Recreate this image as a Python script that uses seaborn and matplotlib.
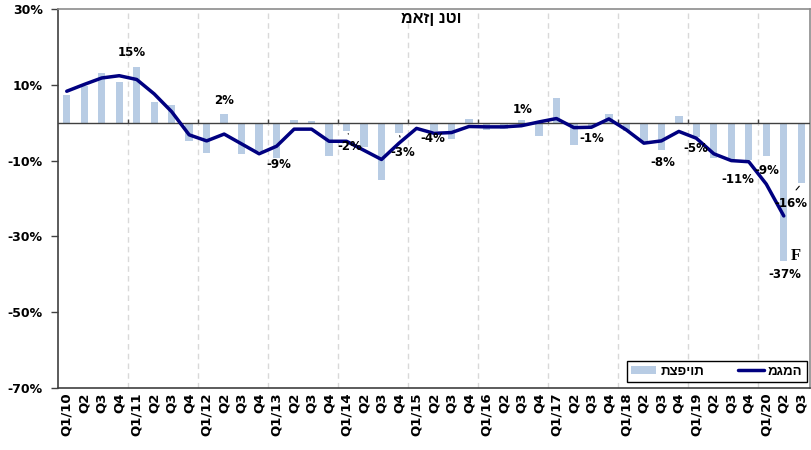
import numpy as np
import pandas as pd
import matplotlib
matplotlib.use("Agg")
import matplotlib.pyplot as plt
import seaborn as sns

# ---------------- data ----------------
years = list(range(10, 21))
quarter_ids = []      # unique category keys
quarter_labels = []   # tick labels as shown
for y in years:
    for q in range(1, 5):
        if y == 20 and q == 4:
            break
        quarter_ids.append(f"Q{q}/{y}")
        quarter_labels.append(f"Q1/{y}" if q == 1 else f"Q{q}")

observations = [7.4, 9.8, 13.1, 10.7, 14.6, 5.4, 4.7, -4.7, -8.1, 2.3, -8.2, -7.5,
                -9.3, 0.7, 0.4, -8.7, -2.1, -6.4, -15.0, -2.7, -0.2, -2.3, -4.2, 1.1,
                -1.9, -1.7, 0.8, -3.6, 6.6, -6.0, -0.8, 2.3, -2.1, -5.2, -7.3, 1.8,
                -3.9, -9.3, -9.5, -9.9, -8.9, -36.5, -16.0]

trend = [8.3, 10.1, 11.8, 12.4, 11.4, 7.6, 2.9, -3.2, -4.8, -3.0, -5.6, -8.2,
         -6.2, -1.7, -1.7, -4.9, -4.9, -7.3, -9.7, -5.4, -1.5, -2.8, -2.6, -1.0,
         -1.1, -1.1, -0.8, 0.2, 1.1, -1.3, -1.2, 1.0, -1.9, -5.4, -4.8, -2.3,
         -4.1, -8.2, -10.0, -10.3, -16.2, -24.6]

label_text = ["15%", "2%", "-9%", "-2%", "-3%", "-4%", "1%", "-1%", "-8%",
              "-5%", "-11%", "-9%", "-16%", "-37%"]

yticks = [-70, -50, -30, -10, 10, 30]

title_he = "מאזן נטו"
legend_obs = "תצפיות"
legend_trend = "מגמה"

# annotation placement (x in category units, y in %)
label_x = [3.73, 8.99, 12.13, 16.19, 19.23, 20.95, 26.05, 30.01, 34.07, 35.96, 38.37, 40.05, 41.43, 41.04]
label_y = [18.4, 5.9, -11.0, -6.3, -7.8, -4.3, 3.5, -4.2, -10.5, -6.9, -14.9, -12.6, -21.2, -40.1]

df = pd.DataFrame({"quarter": quarter_ids, "obs": observations})
df_line = pd.DataFrame({"pos": np.arange(len(trend)), "trend": trend})

sns.set_theme(style="white")
plt.rcParams["font.family"] = ["DejaVu Sans"]
plt.rcParams["text.color"] = "black"
plt.rcParams["xtick.color"] = "black"
plt.rcParams["ytick.color"] = "black"
plt.rcParams["xtick.labelcolor"] = "black"
plt.rcParams["ytick.labelcolor"] = "black"

fig = plt.figure(figsize=(8.11, 4.5), dpi=100)
ax = fig.add_axes([58 / 811, 1 - 388 / 450, 752 / 811, 379 / 450])

n = len(quarter_ids)
boundaries = np.arange(3.5, n - 1, 4)
for b in boundaries:
    ax.axvline(b, color="#D9D9D9", lw=1, ls=(0, (4, 3)), zorder=0)

sns.barplot(data=df, x="quarter", y="obs", order=quarter_ids, color="#B8CCE4",
            saturation=1, width=0.42, errorbar=None, linewidth=0, ax=ax,
            label=legend_obs, zorder=2)
sns.lineplot(data=df_line, x="pos", y="trend", color="#000080", lw=2.5, ax=ax,
             label=legend_trend, zorder=4)

ax.axhline(0, color="#404040", lw=1, zorder=3)
ax.vlines(boundaries, 0, 1.0, color="#404040", lw=1, zorder=3)

ax.set_xlim(-0.5, n - 0.5)
ax.set_ylim(-70, 30)
ax.set_xlabel("")
ax.set_ylabel("")
ax.set_xticks(range(n))
ax.set_xticklabels(quarter_labels, rotation=90, fontsize=9.5, fontweight="bold", color="black")
ax.tick_params(axis="x", length=0, pad=3)
ax.set_yticks(yticks)
ax.set_yticklabels([f"{v}%" for v in yticks], fontsize=9, fontweight="bold", color="black")
ax.tick_params(axis="y", length=5, width=1, color="#404040", direction="out", pad=6, left=True)

for side in ["left", "bottom"]:
    ax.spines[side].set_color("#404040")
    ax.spines[side].set_linewidth(1.2)
for side in ["top", "right"]:
    ax.spines[side].set_color("#8C8C8C")
    ax.spines[side].set_linewidth(1.2)

ax.text(0.497, 0.974, title_he, transform=ax.transAxes, ha="center", va="center",
        fontsize=11.5, fontweight="bold", color="black",
        family=["Liberation Sans", "DejaVu Sans"])

for x, y, t in zip(label_x, label_y, label_text):
    ax.text(x, y, t, ha="center", va="center", fontsize=8.5, fontweight="bold",
            color="black", zorder=6)

# leader lines
ax.annotate("", xy=(16.0, -2.3), xytext=(16.2, -3.6),
            arrowprops=dict(arrowstyle="-", color="black", lw=0.8))
ax.annotate("", xy=(18.99, -2.7), xytext=(19.1, -4.5),
            arrowprops=dict(arrowstyle="-", color="black", lw=0.8))
ax.annotate("", xy=(41.99, -16.2), xytext=(41.6, -18.3),
            arrowprops=dict(arrowstyle="-", color="black", lw=0.8))

ax.text(41.71, -35.2, "F", ha="center", va="center", fontsize=12, fontweight="bold",
        color="black", family=["Liberation Serif", "DejaVu Serif"])

handles, labels = ax.get_legend_handles_labels()
order = [labels.index(legend_obs), labels.index(legend_trend)]
leg = ax.legend([handles[i] for i in order], [labels[i] for i in order],
                loc="lower right", ncol=2, frameon=True, fancybox=False,
                edgecolor="black", framealpha=1, bbox_to_anchor=(0.999, 0.008),
                prop={"family": ["Liberation Sans", "DejaVu Sans"], "weight": "bold", "size": 9.5},
                handlelength=1.9, handleheight=0.6, columnspacing=2.6, borderpad=0.35,
                handletextpad=0.3, borderaxespad=0.2)
leg.get_frame().set_linewidth(1.0)
for txt in leg.get_texts():
    txt.set_color("black")

fig.savefig("out.png", dpi=100)
